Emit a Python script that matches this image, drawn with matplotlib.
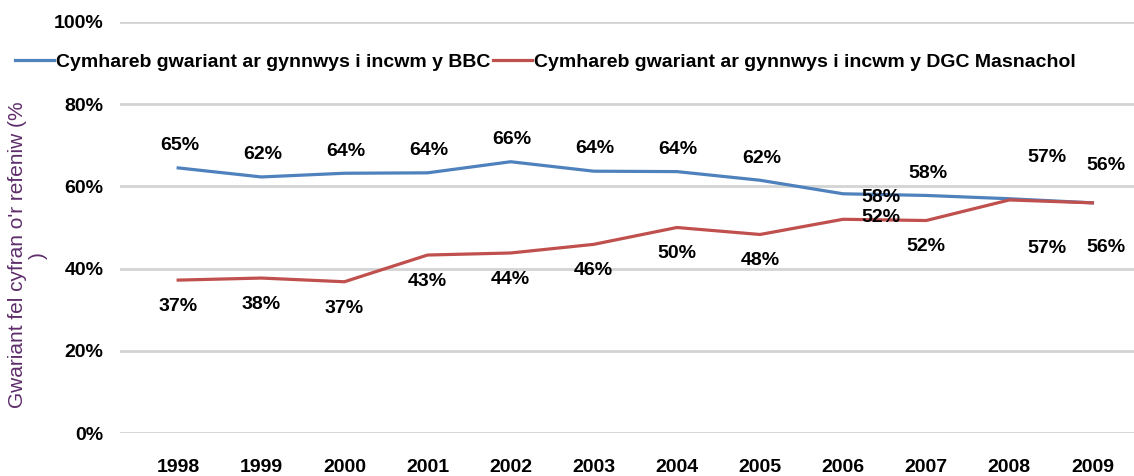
import matplotlib
matplotlib.use('Agg')
import matplotlib.pyplot as plt

years = ['1998', '1999', '2000', '2001', '2002', '2003', '2004', '2005', '2006', '2007', '2008', '2009']
bbc = [64.5, 62.3, 63.2, 63.3, 66.0, 63.7, 63.6, 61.5, 58.2, 57.8, 57.0, 56.0]
dgc = [37.2, 37.7, 36.8, 43.3, 43.8, 45.9, 50.0, 48.3, 52.0, 51.7, 56.7, 56.0]
bbc_labels = ['65%', '62%', '64%', '64%', '66%', '64%', '64%', '62%', '58%', '58%', '57%', '56%']
dgc_labels = ['37%', '38%', '37%', '43%', '44%', '46%', '50%', '48%', '52%', '52%', '57%', '56%']

blue = '#4F81BD'
red = '#C0504D'
purple = '#5E2D6B'

plt.rcParams['font.family'] = ['Liberation Sans', 'DejaVu Sans']
plt.rcParams['font.weight'] = 'bold'

fig = plt.figure(figsize=(11.34, 4.76), dpi=100)
ax = fig.add_axes([120 / 1134, 43 / 476, 1014 / 1134, 411 / 476])

x = list(range(len(years)))
ax.plot(x, bbc, color=blue, lw=2.3, label='Cymhareb gwariant ar gynnwys i incwm y BBC')
ax.plot(x, dgc, color=red, lw=2.3, label='Cymhareb gwariant ar gynnwys i incwm y DGC Masnachol')

# label offsets in points; the last few years get pushed around to avoid overlaps
special_b = {'2006': (27, -3), '2008': (27, 30), '2009': (10, 27)}
special_d = {'2006': (27, 1), '2008': (27, -35), '2009': (10, -32)}
for i in x:
    off_b = special_b.get(years[i], (1, 16))
    off_d = special_d.get(years[i], (0, -19))
    ax.annotate(bbc_labels[i], (i, bbc[i]), xytext=off_b, textcoords='offset points',
                ha='center', va='center', fontsize=14, fontweight='bold')
    ax.annotate(dgc_labels[i], (i, dgc[i]), xytext=off_d, textcoords='offset points',
                ha='center', va='center', fontsize=14, fontweight='bold')

ax.set_xlim(-0.7, 11.5)
ax.set_ylim(0, 100)
ax.set_yticks([0, 20, 40, 60, 80, 100])
ax.set_yticklabels(['0%', '20%', '40%', '60%', '80%', '100%'])
ax.set_xticks(x)
ax.set_xticklabels(years)
ax.tick_params(axis='both', length=0, labelsize=14)
ax.tick_params(axis='x', pad=19)
ax.tick_params(axis='y', pad=12)
ax.grid(axis='y', color='#D4D4D4', lw=2)
ax.set_axisbelow(True)
for s in ax.spines.values():
    s.set_visible(False)

fig.text(28 / 1134, 0.464, "Gwariant fel cyfran o'r refeniw (%\n)", rotation=90,
         ha='center', va='center', color=purple, fontsize=15, fontweight='normal',
         multialignment='center', linespacing=1.1)

ax.legend(loc='center left', bbox_to_anchor=(-0.111, 0.903), ncol=2, frameon=False,
          fontsize=14, handlelength=2.0, handletextpad=0.12, columnspacing=0.1,
          borderaxespad=0)

fig.savefig('out.png', dpi=100)
